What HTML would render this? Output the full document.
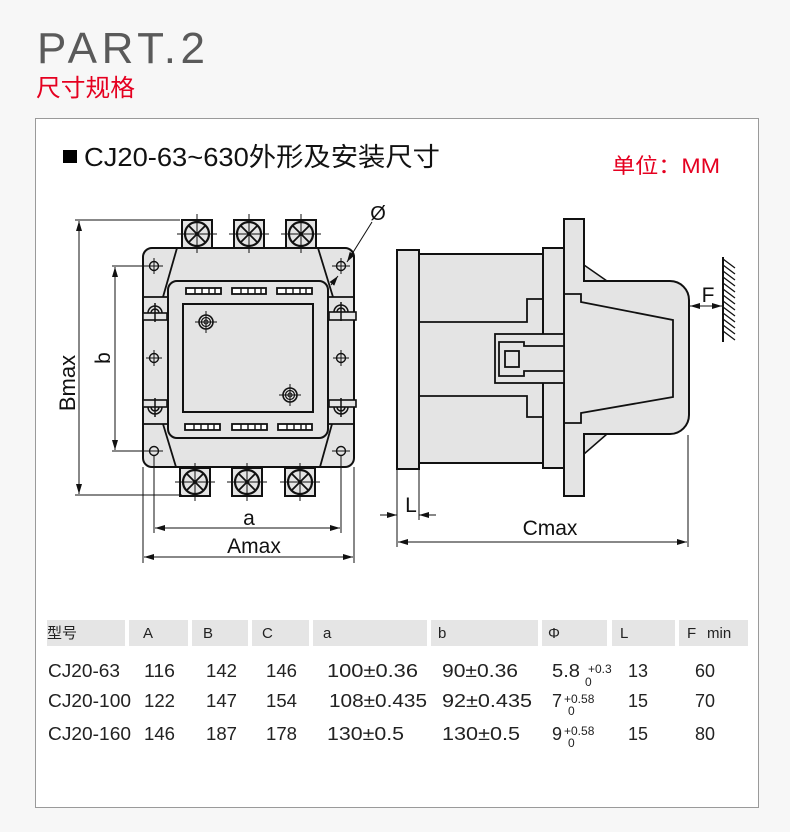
<!DOCTYPE html>
<html><head><meta charset="utf-8"><style>
html,body{margin:0;padding:0;background:#f7f7f7;}
svg{display:block;}
text{font-family:"Liberation Sans","Noto Sans CJK SC",sans-serif;}
</style></head><body>
<svg width="790" height="832" viewBox="0 0 790 832" xmlns="http://www.w3.org/2000/svg">
<defs>
<marker id="ah" viewBox="0 0 10 6" refX="10" refY="3" markerWidth="10" markerHeight="6" markerUnits="userSpaceOnUse" orient="auto-start-reverse"><path d="M0,0 L10,3 L0,6 Z" fill="#111"/></marker>
</defs>
<rect width="790" height="832" fill="#f7f7f7"/>
<!-- header -->
<text x="37" y="63" font-size="44" fill="#5a5a5a" textLength="168" lengthAdjust="spacing">PART.2</text>
<text x="36" y="96" font-size="24" fill="#e50020" textLength="99" lengthAdjust="spacingAndGlyphs">尺寸规格</text>
<rect x="35.5" y="118.5" width="723" height="689" fill="#fff" stroke="#9a9a9a" stroke-width="1"/>
<rect x="63" y="150" width="14" height="13" fill="#000"/>
<text x="84" y="166" font-size="26" fill="#111" textLength="356" lengthAdjust="spacingAndGlyphs">CJ20-63~630外形及安装尺寸</text>
<text x="612" y="173" font-size="21" fill="#e50020" textLength="108" lengthAdjust="spacingAndGlyphs">单位：MM</text>

<!-- LEFT DRAWING -->
<g stroke="#111" fill="#e4e4e4">
<rect x="143" y="248" width="211" height="219" rx="9" stroke-width="2"/>
<g fill="none" stroke-width="1.8">
<path d="M177,248 L163,297 M318,248 L333,297 M163,424 L176,467 M332,424 L320,467"/>
<path d="M143,297 H167 M328,297 H354 M143,424 H167 M328,424 H354"/>
</g>
<!-- tabs -->
<rect x="143" y="313" width="24" height="7" stroke-width="1.6"/>
<rect x="329" y="312" width="27" height="8" stroke-width="1.6"/>
<rect x="143" y="400" width="24" height="7" stroke-width="1.6"/>
<rect x="329" y="400" width="27" height="7" stroke-width="1.6"/>
<g fill="none" stroke-width="1.5">
<path d="M148,313 A7,7 0 0 1 162,313 M151,313 A4,4 0 0 1 159,313 M155,303 V322"/>
<path d="M334,312 A7,7 0 0 1 348,312 M337,312 A4,4 0 0 1 345,312 M341,302 V321"/>
<path d="M148,407 A7,7 0 0 0 162,407 M151,407 A4,4 0 0 0 159,407 M155,398 V417"/>
<path d="M334,407 A7,7 0 0 0 348,407 M337,407 A4,4 0 0 0 345,407 M341,398 V417"/>
</g>
<rect x="168" y="281" width="160" height="157" rx="9" stroke-width="2"/>
<rect x="183" y="304" width="130" height="108" stroke-width="2"/>
<!-- slots -->
<g fill="#fff" stroke-width="1.8">
<rect x="186" y="288" width="35" height="6"/><rect x="232" y="288" width="34" height="6"/><rect x="277" y="288" width="35" height="6"/>
<rect x="185" y="424" width="35" height="6"/><rect x="232" y="424" width="35" height="6"/><rect x="278" y="424" width="34" height="6"/>
</g>
<g stroke-width="1.4" fill="none">
<path d="M195,288v6M202,288v6M209,288v6M215,288v6 M241,288v6M248,288v6M255,288v6M261,288v6 M286,288v6M293,288v6M300,288v6M306,288v6"/>
<path d="M194,424v6M201,424v6M208,424v6M214,424v6 M241,424v6M248,424v6M255,424v6M261,424v6 M287,424v6M294,424v6M301,424v6M306,424v6"/>
</g>
<!-- screws -->
<g fill="none">
<circle cx="206" cy="322" r="7" stroke-width="1.6"/><circle cx="206" cy="322" r="4.5" stroke-width="1.2"/><circle cx="206" cy="322" r="2" stroke-width="1"/>
<path d="M195,322H217M206,311V333" stroke-width="1"/>
<circle cx="290" cy="395" r="7" stroke-width="1.6"/><circle cx="290" cy="395" r="4.5" stroke-width="1.2"/><circle cx="290" cy="395" r="2" stroke-width="1"/>
<path d="M279,395H301M290,384V406" stroke-width="1"/>
</g>
<!-- holes -->
<g fill="none" stroke-width="1.4">
<circle cx="154" cy="266" r="4.5"/><circle cx="341" cy="266" r="4.5"/>
<circle cx="154" cy="358" r="4.5"/><circle cx="341" cy="358" r="4.5"/>
<circle cx="154" cy="451" r="4.5"/><circle cx="341" cy="451" r="4.5"/>
</g>
<g fill="none" stroke-width="1">
<path d="M145,266H163M154,258V274 M332,266H350M341,258V274 M146,358H162M154,350V366 M333,358H349M341,350V366 M145,451H163 M332,451H350"/>
</g>
<!-- terminals -->
<g stroke-width="2">
<rect x="182" y="220" width="30" height="28"/><rect x="234" y="220" width="30" height="28"/><rect x="286" y="220" width="30" height="28"/>
<rect x="180" y="468" width="30" height="28"/><rect x="232" y="468" width="30" height="28"/><rect x="285" y="468" width="30" height="28"/>
</g>
<g fill="none" stroke-width="2.2">
<circle cx="197" cy="234" r="12"/><circle cx="249" cy="234" r="12"/><circle cx="301" cy="234" r="12"/>
<circle cx="195" cy="482" r="12"/><circle cx="247" cy="482" r="12"/><circle cx="300" cy="482" r="12"/>
</g>
<g fill="none" stroke-width="1.8">
<path d="M188.5,225.5L205.5,242.5M205.5,225.5L188.5,242.5 M240.5,225.5L257.5,242.5M257.5,225.5L240.5,242.5 M292.5,225.5L309.5,242.5M309.5,225.5L292.5,242.5"/>
<path d="M186.5,473.5L203.5,490.5M203.5,473.5L186.5,490.5 M238.5,473.5L255.5,490.5M255.5,473.5L238.5,490.5 M291.5,473.5L308.5,490.5M308.5,473.5L291.5,490.5"/>
</g>
<g fill="none" stroke-width="1">
<path d="M177,234H217M197,214V253 M229,234H269M249,214V253 M281,234H321M301,214V253"/>
<path d="M175,482H215M195,463V501 M227,482H267M247,463V501 M280,482H320M300,463V501"/>
</g>
</g>
<!-- left dims -->
<g stroke="#111" stroke-width="1" fill="none">
<path d="M75,220H180 M75,495H182 M112,266H150 M112,451H150"/>
<line x1="79" y1="221" x2="79" y2="494" marker-start="url(#ah)" marker-end="url(#ah)"/>
<line x1="115" y1="267" x2="115" y2="450" marker-start="url(#ah)" marker-end="url(#ah)"/>
<path d="M154,455V533 M341,455V533 M143,467V563 M354,467V563"/>
<line x1="155" y1="528" x2="340" y2="528" marker-start="url(#ah)" marker-end="url(#ah)"/>
<line x1="144" y1="557" x2="353" y2="557" marker-start="url(#ah)" marker-end="url(#ah)"/>
<line x1="372" y1="222" x2="347" y2="262" marker-end="url(#ah)"/>
<line x1="331" y1="285" x2="338" y2="276" marker-end="url(#ah)"/>
</g>
<text transform="translate(75,383) rotate(-90)" font-size="22" fill="#111" text-anchor="middle">Bmax</text>
<text transform="translate(110,358) rotate(-90)" font-size="21" fill="#111" text-anchor="middle">b</text>
<text x="249" y="525" font-size="21" fill="#111" text-anchor="middle">a</text>
<text x="254" y="553" font-size="21" fill="#111" text-anchor="middle">Amax</text>
<text x="378" y="220" font-size="20" fill="#111" text-anchor="middle">Ø</text>

<!-- RIGHT DRAWING -->
<g stroke="#111" fill="#e4e4e4" stroke-width="2">
<polygon points="584,265 607,281 584,281" stroke="none"/>
<polygon points="584,454 607,434 584,434" stroke="none"/>
<path d="M584,265L607,281 M584,454L607,434" fill="none" stroke-width="1.5"/>
<rect x="419" y="254" width="124" height="209"/>
<rect x="397" y="250" width="22" height="219"/>
<rect x="543" y="248" width="21" height="220"/>
<path d="M564,219 H584 V281 H670 A19,19 0 0 1 689,300 V415 A19,19 0 0 1 670,434 H584 V496 H564 Z"/>
<g fill="none" stroke-width="1.8">
<path d="M419,322 H527 V299 H543"/>
<path d="M419,396 H527 V417 H543"/>
<path d="M564,294 H581 V302 L673,320 V397 L581,413 V423 H564"/>
<path d="M564,281 V434"/>
</g>
<rect x="495" y="334" width="69" height="49" stroke-width="1.8"/>
<path d="M564,346 H524 V342 H499 V376 H524 V371 H564" fill="none" stroke-width="1.8"/>
<rect x="505" y="351" width="14" height="16" stroke-width="1.8"/>
</g>
<!-- F wall -->
<g stroke="#111" fill="none">
<line x1="723" y1="257" x2="723" y2="342" stroke-width="2"/>
<path stroke-width="1.3" d="M723,259l12,9M723,265l12,9M723,271l12,9M723,277l12,9M723,283l12,9M723,289l12,9M723,295l12,9M723,301l12,9M723,307l12,9M723,313l12,9M723,319l12,9M723,325l12,9M723,331l12,9"/>
<line x1="690" y1="306" x2="722" y2="306" stroke-width="1" marker-start="url(#ah)" marker-end="url(#ah)"/>
<path d="M397,470V547 M419,470V520 M688,435V547" stroke-width="1"/>
<line x1="380" y1="515" x2="397" y2="515" stroke-width="1" marker-end="url(#ah)"/>
<line x1="436" y1="515" x2="419" y2="515" stroke-width="1" marker-end="url(#ah)"/>
<line x1="398" y1="542" x2="687" y2="542" stroke-width="1" marker-start="url(#ah)" marker-end="url(#ah)"/>
</g>
<text x="708" y="302" font-size="21" fill="#111" text-anchor="middle">F</text>
<text x="411" y="512" font-size="21" fill="#111" text-anchor="middle">L</text>
<text x="550" y="535" font-size="21" fill="#111" text-anchor="middle">Cmax</text>

<!-- TABLE -->
<g fill="#e5e5e5">
<rect x="47" y="620" width="78" height="26"/>
<rect x="129" y="620" width="59" height="26"/>
<rect x="192" y="620" width="56" height="26"/>
<rect x="252" y="620" width="57" height="26"/>
<rect x="313" y="620" width="114" height="26"/>
<rect x="431" y="620" width="107" height="26"/>
<rect x="542" y="620" width="65" height="26"/>
<rect x="612" y="620" width="63" height="26"/>
<rect x="679" y="620" width="69" height="26"/>
</g>
<g font-size="15" fill="#222">
<text x="47" y="638">型号</text>
<text x="143" y="638">A</text>
<text x="203" y="638">B</text>
<text x="262" y="638">C</text>
<text x="323" y="638">a</text>
<text x="438" y="638">b</text>
<text x="548" y="638">Φ</text>
<text x="620" y="638">L</text>
<text x="687" y="638">F</text>
<text x="707" y="638">min</text>
</g>
<g font-size="18" fill="#222">
<text x="48" y="677" textLength="72" lengthAdjust="spacingAndGlyphs">CJ20-63</text>
<text x="144" y="677" textLength="31" lengthAdjust="spacingAndGlyphs">116</text>
<text x="206" y="677" textLength="31" lengthAdjust="spacingAndGlyphs">142</text>
<text x="266" y="677" textLength="31" lengthAdjust="spacingAndGlyphs">146</text>
<text x="327" y="677" textLength="91" lengthAdjust="spacingAndGlyphs">100±0.36</text>
<text x="442" y="677" textLength="76" lengthAdjust="spacingAndGlyphs">90±0.36</text>
<text x="552" y="677" textLength="28" lengthAdjust="spacingAndGlyphs">5.8</text>
<text x="628" y="677" textLength="20" lengthAdjust="spacingAndGlyphs">13</text>
<text x="695" y="677" textLength="20" lengthAdjust="spacingAndGlyphs">60</text>

<text x="48" y="707" textLength="83" lengthAdjust="spacingAndGlyphs">CJ20-100</text>
<text x="144" y="707" textLength="31" lengthAdjust="spacingAndGlyphs">122</text>
<text x="206" y="707" textLength="31" lengthAdjust="spacingAndGlyphs">147</text>
<text x="266" y="707" textLength="31" lengthAdjust="spacingAndGlyphs">154</text>
<text x="329" y="707" textLength="98" lengthAdjust="spacingAndGlyphs">108±0.435</text>
<text x="442" y="707" textLength="90" lengthAdjust="spacingAndGlyphs">92±0.435</text>
<text x="552" y="707">7</text>
<text x="628" y="707" textLength="20" lengthAdjust="spacingAndGlyphs">15</text>
<text x="695" y="707" textLength="20" lengthAdjust="spacingAndGlyphs">70</text>

<text x="48" y="740" textLength="83" lengthAdjust="spacingAndGlyphs">CJ20-160</text>
<text x="144" y="740" textLength="31" lengthAdjust="spacingAndGlyphs">146</text>
<text x="206" y="740" textLength="31" lengthAdjust="spacingAndGlyphs">187</text>
<text x="266" y="740" textLength="31" lengthAdjust="spacingAndGlyphs">178</text>
<text x="327" y="740" textLength="77" lengthAdjust="spacingAndGlyphs">130±0.5</text>
<text x="442" y="740" textLength="78" lengthAdjust="spacingAndGlyphs">130±0.5</text>
<text x="552" y="740">9</text>
<text x="628" y="740" textLength="20" lengthAdjust="spacingAndGlyphs">15</text>
<text x="695" y="740" textLength="20" lengthAdjust="spacingAndGlyphs">80</text>
</g>
<g font-size="12" fill="#222">
<text x="588" y="673">+0.3</text>
<text x="585" y="686">0</text>
<text x="564" y="703">+0.58</text>
<text x="568" y="715">0</text>
<text x="564" y="735">+0.58</text>
<text x="568" y="747">0</text>
</g>
</svg>
</body></html>
